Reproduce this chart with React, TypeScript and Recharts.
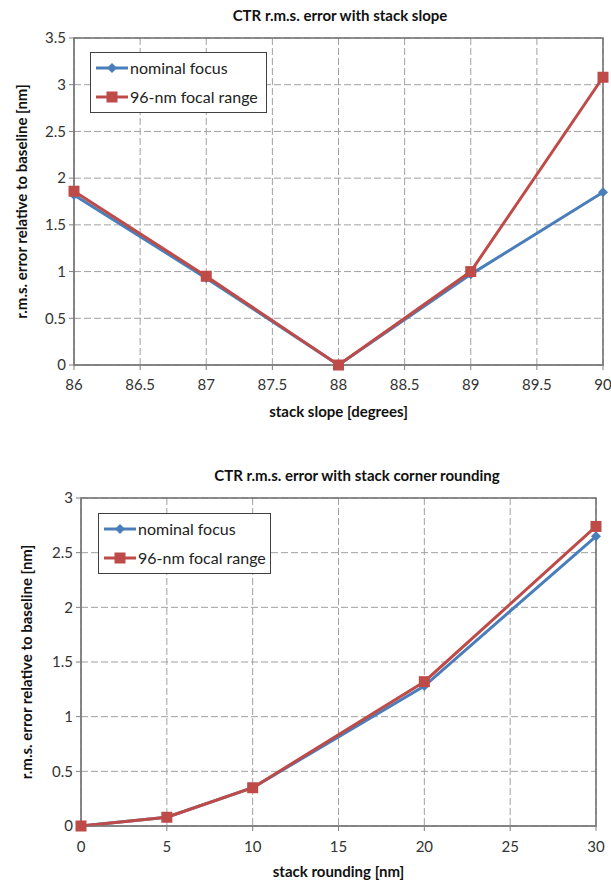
import React from 'react';
import { LineChart, Line, XAxis, YAxis, CartesianGrid, Legend, ReferenceArea, Label } from 'recharts';

// stack slope chart
const slopeX = [86, 87, 88, 89, 90];
const slopeNominal = [1.82, 0.93, 0, 0.97, 1.85];
const slopeFocal = [1.86, 0.95, 0, 1.0, 3.08];
const slopeXTicks = [86, 86.5, 87, 87.5, 88, 88.5, 89, 89.5, 90];
const slopeYTicks = [0, 0.5, 1, 1.5, 2, 2.5, 3, 3.5];

// corner rounding chart
const roundX = [0, 5, 10, 20, 30];
const roundNominal = [0, 0.08, 0.35, 1.28, 2.65];
const roundFocal = [0, 0.08, 0.35, 1.32, 2.74];
const roundXTicks = [0, 5, 10, 15, 20, 25, 30];
const roundYTicks = [0, 0.5, 1, 1.5, 2, 2.5, 3];

const seriesNames = ['nominal focus', '96-nm focal range'];

const BLUE = '#4a7ebb';
const RED = '#be4b48';
const TICK = { fill: '#333', fontSize: 15 };
const AXIS_LABEL = { fontWeight: 700, fontSize: 15, fill: '#111' };

const slopeData = slopeX.map((x, i) => ({ x, nominal: slopeNominal[i], focal: slopeFocal[i] }));
const roundData = roundX.map((x, i) => ({ x, nominal: roundNominal[i], focal: roundFocal[i] }));

const Diamond = (props: any) => {
  const { cx, cy, index } = props;
  if (cx == null || cy == null) return <g key={index} />;
  return <polygon key={index} points={`${cx},${cy - 5} ${cx + 5},${cy} ${cx},${cy + 5} ${cx - 5},${cy}`} fill={BLUE} />;
};

const Square = (props: any) => {
  const { cx, cy, index } = props;
  if (cx == null || cy == null) return <g key={index} />;
  return <rect key={index} x={cx - 5.5} y={cy - 5.5} width={11} height={11} fill={RED} />;
};

function LegendBox() {
  return (
    <div
      style={{
        border: '1.5px solid #404040',
        background: '#fff',
        padding: '0px 4px 0px 5px',
        fontSize: 16,
        color: '#222',
        lineHeight: '29px',
        boxSizing: 'border-box',
        height: 61,
      }}
    >
      {seriesNames.map((name, i) => (
        <div key={name} style={{ display: 'flex', alignItems: 'center', height: 29 }}>
          <svg width={32} height={14} style={{ marginRight: 2 }}>
            <line x1={0} y1={7} x2={32} y2={7} stroke={i === 0 ? BLUE : RED} strokeWidth={3} />
            {i === 0 ? (
              <polygon points="16,2 21,7 16,12 11,7" fill={BLUE} />
            ) : (
              <rect x={10.5} y={1.5} width={11} height={11} fill={RED} />
            )}
          </svg>
          <span>{name}</span>
        </div>
      ))}
    </div>
  );
}

const titleStyle: React.CSSProperties = {
  position: 'absolute',
  fontWeight: 700,
  fontSize: 15,
  color: '#111',
  transform: 'translate(-50%, -50%)',
  whiteSpace: 'nowrap',
};

export default function App() {
  return (
    <div style={{ position: 'absolute', left: 0, top: 0, width: 611, height: 884, background: '#fff', fontFamily: 'Lato, "Open Sans", sans-serif' }}>
      <div style={{ ...titleStyle, left: 340, top: 15 }}>CTR r.m.s. error with stack slope</div>
      <div style={{ position: 'absolute', left: 0, top: 0 }}>
        <LineChart width={611} height={440} data={slopeData} margin={{ top: 38, right: 8, bottom: 20, left: 0 }}>
          <CartesianGrid stroke="#a0a0a0" strokeDasharray="7 3" />
          <XAxis
            dataKey="x"
            type="number"
            domain={[86, 90]}
            ticks={slopeXTicks}
            height={55}
            tick={TICK}
            tickSize={5}
            tickMargin={9}
            stroke="#7f7f7f"
          >
            <Label value="stack slope [degrees]" position="insideBottom" offset={3} style={AXIS_LABEL} />
          </XAxis>
          <YAxis
            type="number"
            domain={[0, 3.5]}
            ticks={slopeYTicks}
            width={74}
            tick={TICK}
            tickSize={5}
            tickMargin={3}
            stroke="#7f7f7f"
          >
            <Label value="r.m.s. error relative to baseline [nm]" angle={-90} position="insideLeft" offset={22} style={{ ...AXIS_LABEL, textAnchor: 'middle' }} />
          </YAxis>
          <ReferenceArea x1={86} x2={90} y1={0} y2={3.5} fill="none" stroke="#6f6f6f" strokeWidth={1.5} />
          <Legend layout="horizontal" verticalAlign="middle" align="center" content={<LegendBox />} wrapperStyle={{ left: 90, top: 52, width: 177 }} />
          <Line dataKey="nominal" name={seriesNames[0]} stroke={BLUE} strokeWidth={3} dot={Diamond} isAnimationActive={false} />
          <Line dataKey="focal" name={seriesNames[1]} stroke={RED} strokeWidth={3} dot={Square} isAnimationActive={false} />
        </LineChart>
      </div>

      <div style={{ ...titleStyle, left: 357, top: 475 }}>CTR r.m.s. error with stack corner rounding</div>
      <div style={{ position: 'absolute', left: 0, top: 440 }}>
        <LineChart width={611} height={444} data={roundData} margin={{ top: 58, right: 15, bottom: 6, left: 0 }}>
          <CartesianGrid stroke="#a0a0a0" strokeDasharray="7 3" />
          <XAxis
            dataKey="x"
            type="number"
            domain={[0, 30]}
            ticks={roundXTicks}
            height={52}
            tick={TICK}
            tickSize={5}
            tickMargin={10}
            stroke="#7f7f7f"
          >
            <Label value="stack rounding [nm]" position="insideBottom" offset={1} style={AXIS_LABEL} />
          </XAxis>
          <YAxis
            type="number"
            domain={[0, 3]}
            ticks={roundYTicks}
            width={81}
            tick={TICK}
            tickSize={5}
            tickMargin={3}
            stroke="#7f7f7f"
          >
            <Label value="r.m.s. error relative to baseline [nm]" angle={-90} position="insideLeft" offset={27} style={{ ...AXIS_LABEL, textAnchor: 'middle' }} />
          </YAxis>
          <ReferenceArea x1={0} x2={30} y1={0} y2={3} fill="none" stroke="#6f6f6f" strokeWidth={1.5} />
          <Legend layout="horizontal" verticalAlign="middle" align="center" content={<LegendBox />} wrapperStyle={{ left: 98, top: 73, width: 173 }} />
          <Line dataKey="nominal" name={seriesNames[0]} stroke={BLUE} strokeWidth={3} dot={Diamond} isAnimationActive={false} />
          <Line dataKey="focal" name={seriesNames[1]} stroke={RED} strokeWidth={3} dot={Square} isAnimationActive={false} />
        </LineChart>
      </div>
    </div>
  );
}
